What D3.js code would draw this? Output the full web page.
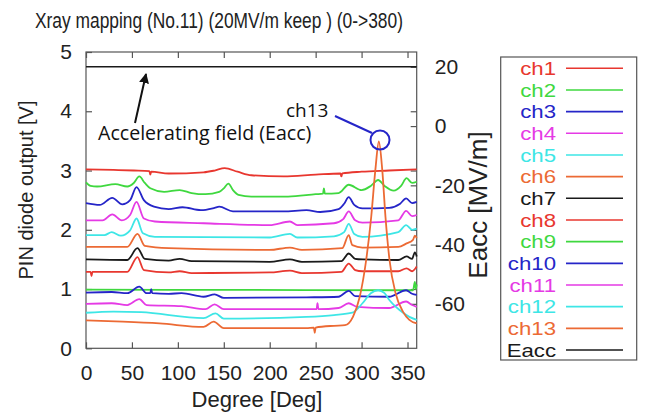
<!DOCTYPE html>
<html><head><meta charset="utf-8">
<script src="https://cdn.jsdelivr.net/npm/d3@7"></script>
<style>body{margin:0;background:#fff;} svg{display:block;}</style>
</head><body><svg id="c" width="648" height="416"></svg>
<script>
// ---------- data ----------
const seriesNames = ["ch1","ch2","ch3","ch4","ch5","ch6","ch7","ch8","ch9","ch10","ch11","ch12","ch13","Eacc"];
const seriesColors = ["#e8372f","#3fd83f","#2525c8","#e53ae5","#3ee6e6","#ec6a34","#1a1a1a","#e8372f","#3fd83f","#2525c8","#e53ae5","#3ee6e6","#ec6a34","#1a1a1a"];
const xTicks = [0,50,100,150,200,250,300,350];
const yTicks = [0,1,2,3,4,5];
const y2Ticks = [20,0,-20,-40,-60];

const ch1 = [[0,3.02],[30,3.01],[52,3.0],[69,2.99],[70,2.93],[71,2.98],[90,2.95],[128,2.97],[140,3.0],[151,3.04],[165,2.98],[180,2.92],[215,2.90],[250,2.93],[277,2.95],[278,2.90],[279,2.95],[300,2.98],[330,3.0],[360,3.02]];
const ch2 = [[0,2.80],[5,2.74],[12,2.73],[32,2.77],[45,2.73],[52,2.79],[58,2.90],[64,2.79],[70,2.70],[85,2.64],[102,2.67],[115,2.62],[130,2.60],[145,2.64],[150,2.70],[155,2.78],[160,2.67],[166,2.59],[180,2.56],[220,2.56],[250,2.60],[258,2.61],[259,2.70],[260,2.61],[275,2.62],[286,2.76],[300,2.67],[310,2.74],[318,2.84],[325,2.74],[335,2.66],[343,2.74],[349,2.87],[355,2.79],[360,2.81]];
const ch3 = [[0,2.45],[15,2.42],[28.6,2.54],[39.5,2.43],[48,2.50],[55,2.72],[63,2.50],[74,2.39],[90,2.35],[105,2.38],[125,2.33],[140,2.37],[145,2.39],[160,2.31],[215,2.31],[240,2.33],[255,2.30],[275,2.35],[281,2.44],[286,2.55],[292,2.42],[301,2.36],[330,2.37],[342,2.44],[348.5,2.53],[355,2.45],[360,2.47]];
const ch4 = [[0,2.16],[18,2.16],[28.6,2.26],[39,2.16],[48,2.25],[55,2.47],[63,2.19],[75,2.14],[128,2.11],[200,2.08],[222,2.14],[230,2.08],[270,2.11],[280,2.18],[286,2.31],[293,2.16],[301,2.12],[340,2.16],[348.5,2.32],[355,2.23],[360,2.25]];
const ch5 = [[0,1.91],[20,1.91],[28,1.96],[38,1.90],[48,1.99],[55,2.19],[62,1.94],[75,1.88],[200,1.87],[222,1.93],[230,1.87],[270,1.89],[281,1.96],[286,2.10],[292,1.93],[301,1.88],[340,1.96],[348.5,2.08],[355,2.00],[360,2.02]];
const ch6 = [[0,1.71],[45,1.71],[56,1.93],[64,1.73],[90,1.69],[200,1.66],[222,1.70],[235,1.66],[279,1.69],[286,1.91],[290,1.74],[301,1.70],[340,1.71],[349,1.77],[356,1.83],[358,1.90],[360,1.86]];
const ch7 = [[0,1.50],[45,1.49],[56,1.69],[64,1.51],[90,1.48],[102,1.51],[115,1.47],[200,1.46],[222,1.50],[235,1.46],[278,1.47],[286,1.60],[293,1.51],[301,1.50],[340,1.49],[349,1.55],[355,1.51],[358,1.62],[360,1.55]];
const ch8 = [[0,1.29],[5,1.29],[6,1.22],[7,1.29],[45,1.29],[56,1.54],[63,1.32],[90,1.28],[102,1.30],[115,1.27],[200,1.28],[222,1.31],[235,1.27],[278,1.29],[286,1.43],[293,1.32],[301,1.30],[340,1.30],[349,1.35],[355,1.30],[360,1.38]];
const ch9 = [[0,0.99],[180,0.985],[356,0.98],[358,1.12],[359,1.0],[360,1.08]];
const ch10 = [[0,0.94],[28,0.95],[45,0.93],[58,1.04],[66,0.93],[70,0.93],[71,1.0],[72,0.93],[90,0.92],[104,0.93],[128,0.87],[140,0.91],[150,0.85],[240,0.86],[275,0.87],[286,0.97],[293,0.88],[330,0.87],[348.5,0.98],[355,0.92],[360,0.90]];
const ch11 = [[0,0.75],[28,0.76],[45,0.73],[58,0.83],[66,0.73],[104,0.71],[130,0.66],[140,0.74],[150,0.66],[240,0.66],[251,0.66],[252,0.76],[253,0.66],[275,0.68],[286,0.76],[295,0.70],[330,0.68],[348.5,0.79],[355,0.73],[360,0.70]];
const ch12 = [[0,0.60],[30,0.62],[60,0.61],[128,0.51],[141,0.59],[150,0.50],[240,0.53],[270,0.56],[290,0.60],[301,0.76],[310,0.93],[318,0.98],[325,0.93],[330,0.82],[341,0.65],[352,0.53],[360,0.48]];
const ch13 = [[0,0.47],[40,0.45],[80,0.42],[128,0.36],[139,0.45],[150,0.34],[240,0.34],[248,0.35],[249,0.26],[250,0.35],[270,0.38],[282,0.39],[290.6,0.53],[298,0.87],[305,1.49],[310.5,2.22],[315,3.01],[318.8,3.49],[322.5,3.01],[326,2.22],[330.4,1.49],[337,0.93],[345,0.62],[352,0.48],[360,0.42]];
const eacc = [[0,20],[360,20]];

const seriesData = [ch1,ch2,ch3,ch4,ch5,ch6,ch7,ch8,ch9,ch10,ch11,ch12,ch13];

// ---------- layout ----------
const svg = d3.select("#c");
const L = 86, R = 416.7, T = 52, B = 348.3;
const x = d3.scaleLinear().domain([0,360]).range([L,R]);
const y = d3.scaleLinear().domain([0,5]).range([B,T]);
const y2 = d3.scaleLinear().domain([-75,25]).range([B,T]);
const axisFont = "'Liberation Sans', Arial, sans-serif";
const intFmt = d => String(d);

// title
svg.append("text").attr("transform","translate(35,28) scale(0.79,1)")
  .style("font-family",axisFont)
  .style("font-size","22px").attr("fill","#222")
  .text("Xray mapping (No.11) (20MV/m keep ) (0->380)");

// frame
svg.append("rect").attr("x",L).attr("y",T).attr("width",R-L).attr("height",B-T)
  .attr("fill","none").attr("stroke","#555").attr("stroke-width",1.2);

function styleAxis(g){
  g.select(".domain").remove();
  g.selectAll(".tick line").attr("stroke","#555").attr("stroke-width",1.2);
  g.selectAll(".tick text").style("font-family",axisFont).style("font-size","21px").attr("fill","#222");
}
svg.append("g").attr("transform",`translate(0,${B})`)
  .call(d3.axisBottom(x).tickValues(xTicks).tickSize(-6).tickPadding(17).tickFormat(intFmt)).call(styleAxis);
svg.append("g").attr("transform",`translate(0,${T})`)
  .call(d3.axisTop(x).tickValues(xTicks).tickSize(-6).tickFormat("")).call(styleAxis);
svg.append("g").attr("transform",`translate(${L},0)`)
  .call(d3.axisLeft(y).tickValues(yTicks).tickSize(-6).tickPadding(14).tickFormat(intFmt)).call(styleAxis);
svg.append("g").attr("transform",`translate(${R},0)`)
  .call(d3.axisRight(y).tickValues(yTicks.slice(1,5)).tickSize(-6).tickFormat("")).call(styleAxis);
svg.append("g").attr("transform",`translate(${R},0)`)
  .call(d3.axisRight(y2).tickValues(y2Ticks).tickSize(-6).tickPadding(18).tickFormat(intFmt)).call(styleAxis);

// axis titles
svg.append("text").attr("x",257).attr("y",407).attr("text-anchor","middle")
  .style("font-family",axisFont).style("font-size","22px").attr("fill","#222").text("Degree [Deg]");
svg.append("text").attr("transform","translate(33,190) rotate(-90)").attr("text-anchor","middle")
  .style("font-family",axisFont).style("font-size","20px").attr("fill","#222").text("PIN diode output  [V]");
svg.append("text").attr("transform","translate(487,205) rotate(-90)").attr("text-anchor","middle")
  .style("font-family",axisFont).style("font-size","26px").attr("fill","#222").text("Eacc [MV/m]");

// lines
const line = d3.line().x(d=>x(d[0])).y(d=>y(d[1])).curve(d3.curveMonotoneX);
const line2 = d3.line().x(d=>x(d[0])).y(d=>y2(d[1]));
seriesData.forEach((s,i)=>{
  svg.append("path").datum(s).attr("d",line).attr("fill","none")
    .attr("stroke",seriesColors[i]).attr("stroke-width",1.8).attr("stroke-linejoin","round");
});
svg.append("path").datum(eacc).attr("d",line2).attr("fill","none").attr("stroke","#1a1a1a").attr("stroke-width",1.6);

// annotations
const defs = svg.append("defs");
defs.append("marker").attr("id","ah").attr("viewBox","0 0 10 10").attr("refX",9).attr("refY",5)
  .attr("markerWidth",5).attr("markerHeight",5).attr("orient","auto")
  .append("path").attr("d","M0,0 L10,5 L0,10 z").attr("fill","#111");
svg.append("line").attr("x1",135).attr("y1",123).attr("x2",146).attr("y2",74)
  .attr("stroke","#111").attr("stroke-width",2).attr("marker-end","url(#ah)");
const annFont = "'Open Sans', 'Noto Sans', sans-serif";
svg.append("text").attr("x",98).attr("y",140).style("font-family",annFont).style("font-size","19.6px")
  .attr("fill","#111").text("Accelerating field (Eacc)");
svg.append("text").attr("x",286).attr("y",117).style("font-family",annFont).style("font-size","19px")
  .attr("fill","#111").text("ch13");
svg.append("line").attr("x1",335).attr("y1",116).attr("x2",372).attr("y2",133)
  .attr("stroke","#2525c8").attr("stroke-width",2);
svg.append("circle").attr("cx",380).attr("cy",140).attr("r",9.5)
  .attr("fill","none").attr("stroke","#2525c8").attr("stroke-width",2);

// legend
svg.append("rect").attr("x",500.7).attr("y",57).attr("width",136).attr("height",303)
  .attr("fill","#fff").attr("stroke","#555").attr("stroke-width",1.2);
seriesNames.forEach((n,i)=>{
  const yy = 68.3 + i*21.67;
  svg.append("text").attr("transform",`translate(556,${yy}) scale(1.2,1)`).attr("dy","0.36em").attr("text-anchor","end")
    .style("font-family",axisFont).style("font-size","18.5px").attr("fill",seriesColors[i]).text(n);
  svg.append("line").attr("x1",566).attr("x2",623).attr("y1",yy).attr("y2",yy)
    .attr("stroke",seriesColors[i]).attr("stroke-width",1.6);
});
</script></body></html>
